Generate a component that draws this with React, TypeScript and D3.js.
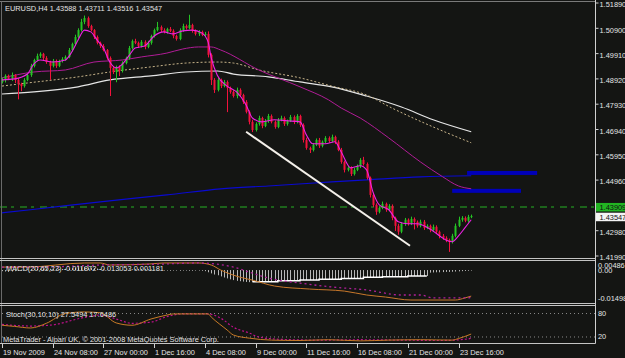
import React from 'react';
import * as d3 from 'd3';

const symbolTitle = 'EURUSD,H4  1.43588 1.43711 1.43516 1.43547';
const macdTitle = 'MACD(20,65,23) -0.011872 -0.013053 0.001181';
const stochTitle = 'Stoch(30,10,10) 27.5494 17.6486';
const copyright = 'MetaTrader - Alpari UK, \u00a9 2001-2008 MetaQuotes Software Corp.';

const firstOpen = 1.488;
const closes = [
  1.4888, 1.4904, 1.4892, 1.4907, 1.4888, 1.4872, 1.4864, 1.4888, 1.4907, 1.4943,
  1.4966, 1.4982, 1.499, 1.4974, 1.4958, 1.4943, 1.4962, 1.4943, 1.4962, 1.497,
  1.4978, 1.5005, 1.5029, 1.5056, 1.5083, 1.5115, 1.513, 1.5099, 1.5083, 1.5056,
  1.5033, 1.5021, 1.5005, 1.4974, 1.4935, 1.4919, 1.4939, 1.4923, 1.4954, 1.4974,
  1.5013, 1.504, 1.5033, 1.5021, 1.5037, 1.5017, 1.5033, 1.506, 1.5083, 1.5095,
  1.5083, 1.5076, 1.5087, 1.508, 1.506, 1.5048, 1.5083, 1.5099, 1.5091, 1.5103,
  1.508, 1.5068, 1.5076, 1.5064, 1.5068, 1.4986, 1.4888, 1.4849, 1.4888, 1.4864,
  1.488, 1.4857, 1.4841, 1.4825, 1.4849, 1.4829, 1.4802, 1.4763, 1.4724, 1.4692,
  1.4716, 1.4739, 1.4708, 1.4728, 1.4747, 1.4724, 1.4704, 1.4732, 1.4739, 1.4716,
  1.4728, 1.4743, 1.4724, 1.4747, 1.4712, 1.4653, 1.4622, 1.4614, 1.4634, 1.4653,
  1.463, 1.4646, 1.4661, 1.4649, 1.4665, 1.4646, 1.4614, 1.4567, 1.4536, 1.4544,
  1.452, 1.4536, 1.4552, 1.4575, 1.4559, 1.4505, 1.4438, 1.4399, 1.4372, 1.4387,
  1.4403, 1.438, 1.4395, 1.4348, 1.4317, 1.4294, 1.4325, 1.4341, 1.4325, 1.4344,
  1.4333, 1.4317, 1.4333, 1.4309, 1.4317, 1.4301, 1.4313, 1.4294, 1.4278, 1.427,
  1.4262, 1.4255, 1.4278, 1.4317, 1.4341, 1.4348, 1.4337, 1.4352, 1.4355,
];
// wick lengths in pips
const upWick = [
  8, 6, 5, 10, 4, 6, 5, 7, 6, 8,
  5, 9, 6, 4, 7, 5, 8, 6, 5, 7,
  6, 8, 5, 9, 7, 12, 10, 6, 5, 4,
  6, 5, 7, 4, 6, 8, 5, 6, 7, 5,
  8, 6, 9, 5, 7, 6, 8, 5, 6, 20,
  6, 7, 5, 8, 6, 5, 7, 9, 6, 40,
  5, 6, 7, 5, 8, 10, 6, 7, 9, 5,
  8, 6, 5, 7, 9, 6, 5, 7, 6, 8,
  6, 9, 5, 7, 8, 6, 5, 7, 9, 6,
  5, 8, 6, 7, 5, 6, 9, 5, 7, 6,
  8, 5, 7, 6, 9, 5, 6, 8, 5, 7,
  6, 8, 5, 7, 12, 6, 5, 8, 6, 7,
  9, 5, 7, 6, 5, 8, 6, 7, 5, 9,
  6, 5, 8, 7, 6, 5, 9, 6, 5, 7,
  6, 5, 8, 9, 12, 7, 6, 8, 6,
];
const downWick = [
  6, 10, 5, 8, 12, 60, 20, 6, 5, 7,
  6, 5, 8, 9, 7, 55, 6, 8, 5, 6,
  7, 5, 6, 8, 5, 6, 9, 7, 5, 8,
  6, 8, 5, 7, 110, 8, 40, 20, 6, 5,
  7, 6, 5, 8, 6, 9, 5, 7, 6, 5,
  8, 6, 7, 5, 9, 6, 5, 7, 6, 5,
  7, 6, 8, 5, 6, 10, 20, 12, 6, 8,
  5, 95, 7, 6, 9, 5, 8, 6, 10, 8,
  6, 7, 9, 5, 8, 6, 7, 5, 6, 8,
  7, 5, 9, 6, 8, 10, 7, 12, 6, 5,
  8, 6, 5, 7, 6, 9, 5, 7, 10, 6,
  8, 6, 5, 9, 6, 7, 10, 8, 12, 6,
  5, 8, 6, 9, 20, 12, 6, 8, 7, 5,
  30, 7, 6, 8, 5, 9, 7, 6, 10, 8,
  9, 40, 7, 6, 5, 8, 6, 7, 5,
];

type P = [number, number];
const fastMA: P[] = [
  [0, 1.4888], [4, 1.4892], [8, 1.4911], [10, 1.495], [12, 1.4966], [16, 1.4958], [20, 1.4966],
  [22, 1.4997], [24, 1.5044], [26, 1.5083], [28, 1.5076], [30, 1.5044], [32, 1.5013], [34, 1.4958],
  [36, 1.4935], [38, 1.495], [40, 1.4982], [42, 1.5013], [45, 1.5021], [48, 1.506], [51, 1.5076],
  [54, 1.5068], [57, 1.508], [60, 1.5083], [63, 1.5072], [65, 1.5037], [66, 1.4974], [68, 1.4904],
  [71, 1.4864], [74, 1.4841], [77, 1.479], [79, 1.4739], [82, 1.4724], [86, 1.4732], [90, 1.4728],
  [94, 1.4724], [96, 1.4673], [98, 1.4638], [102, 1.4638], [105, 1.4646], [107, 1.4606], [110, 1.4544],
  [113, 1.4552], [115, 1.4536], [117, 1.445], [119, 1.4399], [122, 1.438], [125, 1.4333], [128, 1.4325],
  [131, 1.4325], [135, 1.4305], [140, 1.4262], [142, 1.4255], [144, 1.4278], [146, 1.4309], [148, 1.4341],
];
const midMA: P[] = [
  [0, 1.4896], [10, 1.4919], [20, 1.4927], [29, 1.4958], [38, 1.4966], [44, 1.4978], [52, 1.4993],
  [57, 1.5009], [62, 1.5017], [66, 1.5017], [69, 1.5005], [81, 1.4927], [94, 1.4861], [103, 1.481],
  [107, 1.4778], [113, 1.4739], [122, 1.4661], [132, 1.4567], [139, 1.4509], [144, 1.4473], [148, 1.4462],
];
const slowMA: P[] = [
  [0, 1.4833], [10, 1.4841], [24, 1.4861], [34, 1.4888], [47, 1.4904], [58, 1.4919], [68, 1.4923],
  [73, 1.4911], [84, 1.49], [94, 1.488], [104, 1.4861], [115, 1.4825], [126, 1.4782], [136, 1.4732],
  [148, 1.4685],
];
const dottedMA: P[] = [
  [0, 1.4864], [8, 1.4876], [24, 1.49], [34, 1.4919], [47, 1.4939], [58, 1.4954], [68, 1.4958],
  [73, 1.4954], [81, 1.4927], [94, 1.4896], [104, 1.4864], [115, 1.4829], [123, 1.4778], [136, 1.4704],
  [148, 1.4642],
];
const blueMA: P[] = [
  [0, 1.4368], [9, 1.438], [31, 1.4411], [52, 1.4438], [69, 1.4462], [84, 1.4473], [104, 1.4489],
  [115, 1.4497], [132, 1.4509], [148, 1.4513],
];
const blueLevelFrom = [146.7, 142];
const blueLevelTo = [168.8, 163.7];
const blueLevelPrice = [1.4524, 1.4454];
const trendLine: P[] = [[77, 1.4685], [128.7, 1.4239]];
const markedLevel = 1.43909;
const lastPrice = 1.43547;

const priceTicks = [1.5189, 1.509, 1.4991, 1.4892, 1.4793, 1.4694, 1.4595, 1.4496, 1.4397, 1.4298, 1.4199];
const timeTickIdx = [0, 16, 32, 48, 64, 80, 96, 112, 128, 144];
const timeTickLabels = [
  '19 Nov 2009', '24 Nov 08:00', '27 Nov 00:00', '1 Dec 16:00', '4 Dec 08:00',
  '9 Dec 00:00', '11 Dec 16:00', '16 Dec 08:00', '21 Dec 00:00', '23 Dec 16:00',
];

// MACD histogram, x1e-4
const macdHist = [
  -6, -8, -10, -8, -6, -5, -4,
  2, 3, 4, 5, 6, 7, 8, 8, 7, 6, 5, 5, 6, 7,
  8, 10, 12, 14, 15, 15, 14, 12, 10, 8, 6, 4, 2, 0, -2,
  -3, -2, 0, 2, 3, 4, 5, 6, 6, 5, 4, 3, 2, 1, 0,
  -3, -3, -4, -3, -3, -4, -3, -3, -4, -4, -3, -3, -4,
  -6, -12, -18, -24, -28,
  -34, -40, -45, -50, -54, -58, -60, -62, -64, -65,
  -63, -63, -63, -63, -63, -63, -63, -63,
  -58, -58, -58, -58, -58, -58, -58,
  -54, -54, -54, -54, -54, -54,
  -50, -50, -50, -50, -50, -50, -50,
  -45, -45, -45, -45, -45, -45, -45,
  -39, -39, -39, -39, -39, -39,
  -36, -36, -36, -36, -36, -36, -36, -36,
  -32, -32, -32, -32, -32, -32, -32,
  -14, -13, -12, -12, -11, -10, -10, -9, -8, -7, -6, -5, -4, -3,
];
const macdOrange: P[] = [
  [0, 0.0016], [8, 0.0016], [26, 0.0038], [31, 0.0038], [34, 0.0027], [47, 0.0033], [51, 0.0038],
  [62, 0.0038], [66, 0.0027], [69, 0.0], [75, -0.0038], [79, -0.0054], [86, -0.0086], [97, -0.0102],
  [108, -0.0113], [115, -0.0134], [121, -0.0145], [129, -0.0161], [143, -0.0161], [146, -0.015],
  [148, -0.014],
];
const macdDots: P[] = [
  [0, 0.0016], [12, 0.0016], [31, 0.0027], [50, 0.0032], [62, 0.0038], [73, 0.0016], [78, -0.0011],
  [84, -0.0043], [94, -0.007], [104, -0.0091], [115, -0.0107], [126, -0.0134], [132, -0.0134],
  [136, -0.015], [147, -0.015], [148, -0.0145],
];
const macdAxisText = ['0.00486', '0.00', '-0.01498'];
const macdAxisVal = [0.00486, 0, -0.01498];

const stochMain: P[] = [
  [0, 50], [4, 47], [9, 43], [14, 55], [20, 80], [26, 84], [31, 82], [36, 56], [41, 50], [47, 66],
  [52, 76], [54, 79], [65, 79], [66, 71], [71, 38], [73, 25], [78, 17], [85, 12], [94, 11], [103, 13],
  [113, 10], [122, 12], [132, 13], [142, 12], [144, 16], [148, 27.5],
];
const stochSignal: P[] = [
  [0, 52], [9, 48], [15, 50], [26, 70], [31, 76], [36, 66], [41, 55], [47, 58], [52, 72], [57, 79],
  [65, 79], [69, 68], [73, 45], [78, 30], [81, 20], [88, 14], [100, 12], [113, 13], [126, 12],
  [138, 11], [147, 15], [148, 17.6],
];
const stochLevels = [80, 20];
const stochAxisText = ['80', '20'];
const stochAxisVal = [80, 20];

export default function App() {
  const W = 625;
  const H = 358;
  const axisX = 595.5;
  const x = d3.scaleLinear().domain([0, 148]).range([2, 471.2]);
  const yP = d3.scaleLinear().domain([1.4199, 1.5189]).range([256, 3]);
  const yM = d3.scaleLinear().domain([-0.0177, 0.00486]).range([303, 261]);
  const yS = d3.scaleLinear().domain([0, 100]).range([344.8, 305.7]);

  const lineP = d3.line<P>().x((d) => x(d[0])).y((d) => yP(d[1])).curve(d3.curveMonotoneX);
  const lineM = d3.line<P>().x((d) => x(d[0])).y((d) => yM(d[1])).curve(d3.curveMonotoneX);
  const lineS = d3.line<P>().x((d) => x(d[0])).y((d) => yS(d[1])).curve(d3.curveMonotoneX);
  const stepLine = d3
    .line<number>()
    .x((_, k) => x(79 + k))
    .y((v) => yM(v * 1e-4))
    .curve(d3.curveStepAfter);

  const txt = '#e4e4e4';
  return (
    <svg
      width={W}
      height={H}
      style={{ position: 'absolute', left: 0, top: 0, display: 'block' }}
      fontFamily="'Liberation Sans', Arial, sans-serif"
      fontSize={7.4}
    >
      <rect width={W} height={H} fill="#141513" />

      {/* main pane */}
      <line x1={0} x2={axisX} y1={yP(markedLevel)} y2={yP(markedLevel)} stroke="#1f7d1f" strokeWidth={1.5} strokeDasharray="7,4,3,6" />
      <path d={lineP(blueMA) || ''} fill="none" stroke="#0a0ad0" strokeWidth={1.2} />
      {blueLevelPrice.map((p, k) => (
        <rect key={k} x={x(blueLevelFrom[k])} width={x(blueLevelTo[k]) - x(blueLevelFrom[k])} y={yP(p) - 2} height={4} fill="#0000b8" />
      ))}
      <path d={lineP(slowMA) || ''} fill="none" stroke="#e6e6e6" strokeWidth={1.2} />
      <path d={lineP(dottedMA) || ''} fill="none" stroke="#c8b48a" strokeWidth={1} strokeDasharray="2,2" />
      <path d={lineP(midMA) || ''} fill="none" stroke="#b01c96" strokeWidth={1} />

      {closes.map((c, i) => {
        const o = i === 0 ? firstOpen : closes[i - 1];
        const hi = Math.max(o, c) + upWick[i] * 1e-4;
        const lo = Math.min(o, c) - downWick[i] * 1e-4;
        const col = c >= o ? '#25c425' : '#f2123c';
        const cx = Math.round(x(i));
        const yTop = yP(Math.max(o, c));
        const yBot = yP(Math.min(o, c));
        return (
          <g key={i}>
            <line x1={cx + 0.5} x2={cx + 0.5} y1={yP(hi)} y2={yP(lo)} stroke={col} strokeWidth={1} />
            <rect x={cx - 0.5} y={yTop} width={2} height={Math.max(1, yBot - yTop)} fill={col} />
          </g>
        );
      })}
      <path d={lineP(fastMA) || ''} fill="none" stroke="#f020e6" strokeWidth={1.1} />
      <path d={lineP(trendLine) || ''} fill="none" stroke="#f4f0ea" strokeWidth={2} />

      <text x={5} y={11} fill={txt}>{symbolTitle}</text>

      {/* MACD pane */}
      {macdHist.map((v, i) => {
        const y0 = yM(0);
        const y1 = yM(v * 1e-4);
        return (
          <line key={i} x1={Math.round(x(i)) + 0.5} x2={Math.round(x(i)) + 0.5} y1={Math.min(y0, y1)} y2={Math.max(y0, y1)} stroke="#b8b8b8" strokeWidth={1} />
        );
      })}
      <path d={stepLine(macdHist.slice(79, 135)) || ''} fill="none" stroke="#ffffff" strokeWidth={1.5} />
      <path d={lineM(macdOrange) || ''} fill="none" stroke="#c8782a" strokeWidth={1} />
      <path d={lineM(macdDots) || ''} fill="none" stroke="#b0209a" strokeWidth={1.3} strokeDasharray="2,3" />
      <text x={6} y={271} fill={txt}>{macdTitle}</text>

      {/* Stoch pane */}
      {stochLevels.map((lv) => (
        <line key={lv} x1={2} x2={axisX} y1={yS(lv)} y2={yS(lv)} stroke="#8a8a8a" strokeWidth={1} strokeDasharray="1,3" />
      ))}
      <path d={lineS(stochSignal) || ''} fill="none" stroke="#c0108c" strokeWidth={1.2} strokeDasharray="2,2" />
      <path d={lineS(stochMain) || ''} fill="none" stroke="#c87a26" strokeWidth={1} />
      <text x={6} y={316.5} fill={txt}>{stochTitle}</text>
      <text x={3} y={341.5} fill={txt}>{copyright}</text>

      {/* frame & separators */}
      <line x1={0} x2={axisX} y1={1.5} y2={1.5} stroke="#7a7a7a" />
      <line x1={1.5} x2={1.5} y1={1.5} y2={343.5} stroke="#6a6a6a" />
      <line x1={0} x2={axisX} y1={258.5} y2={258.5} stroke="#c4c4c4" />
      <line x1={0} x2={axisX} y1={260.5} y2={260.5} stroke="#c4c4c4" />
      <line x1={0} x2={axisX} y1={303.5} y2={303.5} stroke="#c4c4c4" />
      <line x1={0} x2={axisX} y1={305.5} y2={305.5} stroke="#c4c4c4" />
      <line x1={0} x2={axisX} y1={343.5} y2={343.5} stroke="#c4c4c4" />
      <line x1={axisX} x2={axisX} y1={0} y2={343.5} stroke="#d0d0d0" />

      {/* price axis */}
      {priceTicks.map((p) => (
        <g key={p}>
          <line x1={axisX} x2={axisX + 3} y1={yP(p)} y2={yP(p)} stroke="#d0d0d0" />
          <text x={599.5} y={yP(p) + 4.2} fill={txt}>{p.toFixed(5)}</text>
        </g>
      ))}
      <rect x={axisX + 0.5} y={yP(markedLevel) - 4} width={30} height={8.5} fill="#22b422" />
      <text x={599.5} y={yP(markedLevel) + 3} fill="#101010">{markedLevel.toFixed(5)}</text>
      <rect x={axisX + 0.5} y={yP(lastPrice) - 3.5} width={30} height={8.5} fill="#f4f4f4" />
      <text x={599.5} y={yP(lastPrice) + 3.5} fill="#101010">{lastPrice.toFixed(5)}</text>

      {/* MACD axis */}
      {macdAxisText.map((t, k) => (
        <text key={t} x={598} y={Math.min(Math.max(yM(macdAxisVal[k]) + 3, 268), 300.5)} fill={txt}>{t}</text>
      ))}
      {/* Stoch axis */}
      {stochAxisText.map((t, k) => (
        <text key={t} x={598} y={yS(stochAxisVal[k]) + 2.5} fill={txt}>{t}</text>
      ))}

      {/* time axis */}
      {timeTickIdx.map((idx, k) => (
        <g key={idx}>
          <line x1={Math.round(x(idx)) + 0.5} x2={Math.round(x(idx)) + 0.5} y1={344} y2={348} stroke="#d0d0d0" />
          <text x={Math.round(x(idx)) + 1} y={355} fill={txt}>{timeTickLabels[k]}</text>
        </g>
      ))}
    </svg>
  );
}
